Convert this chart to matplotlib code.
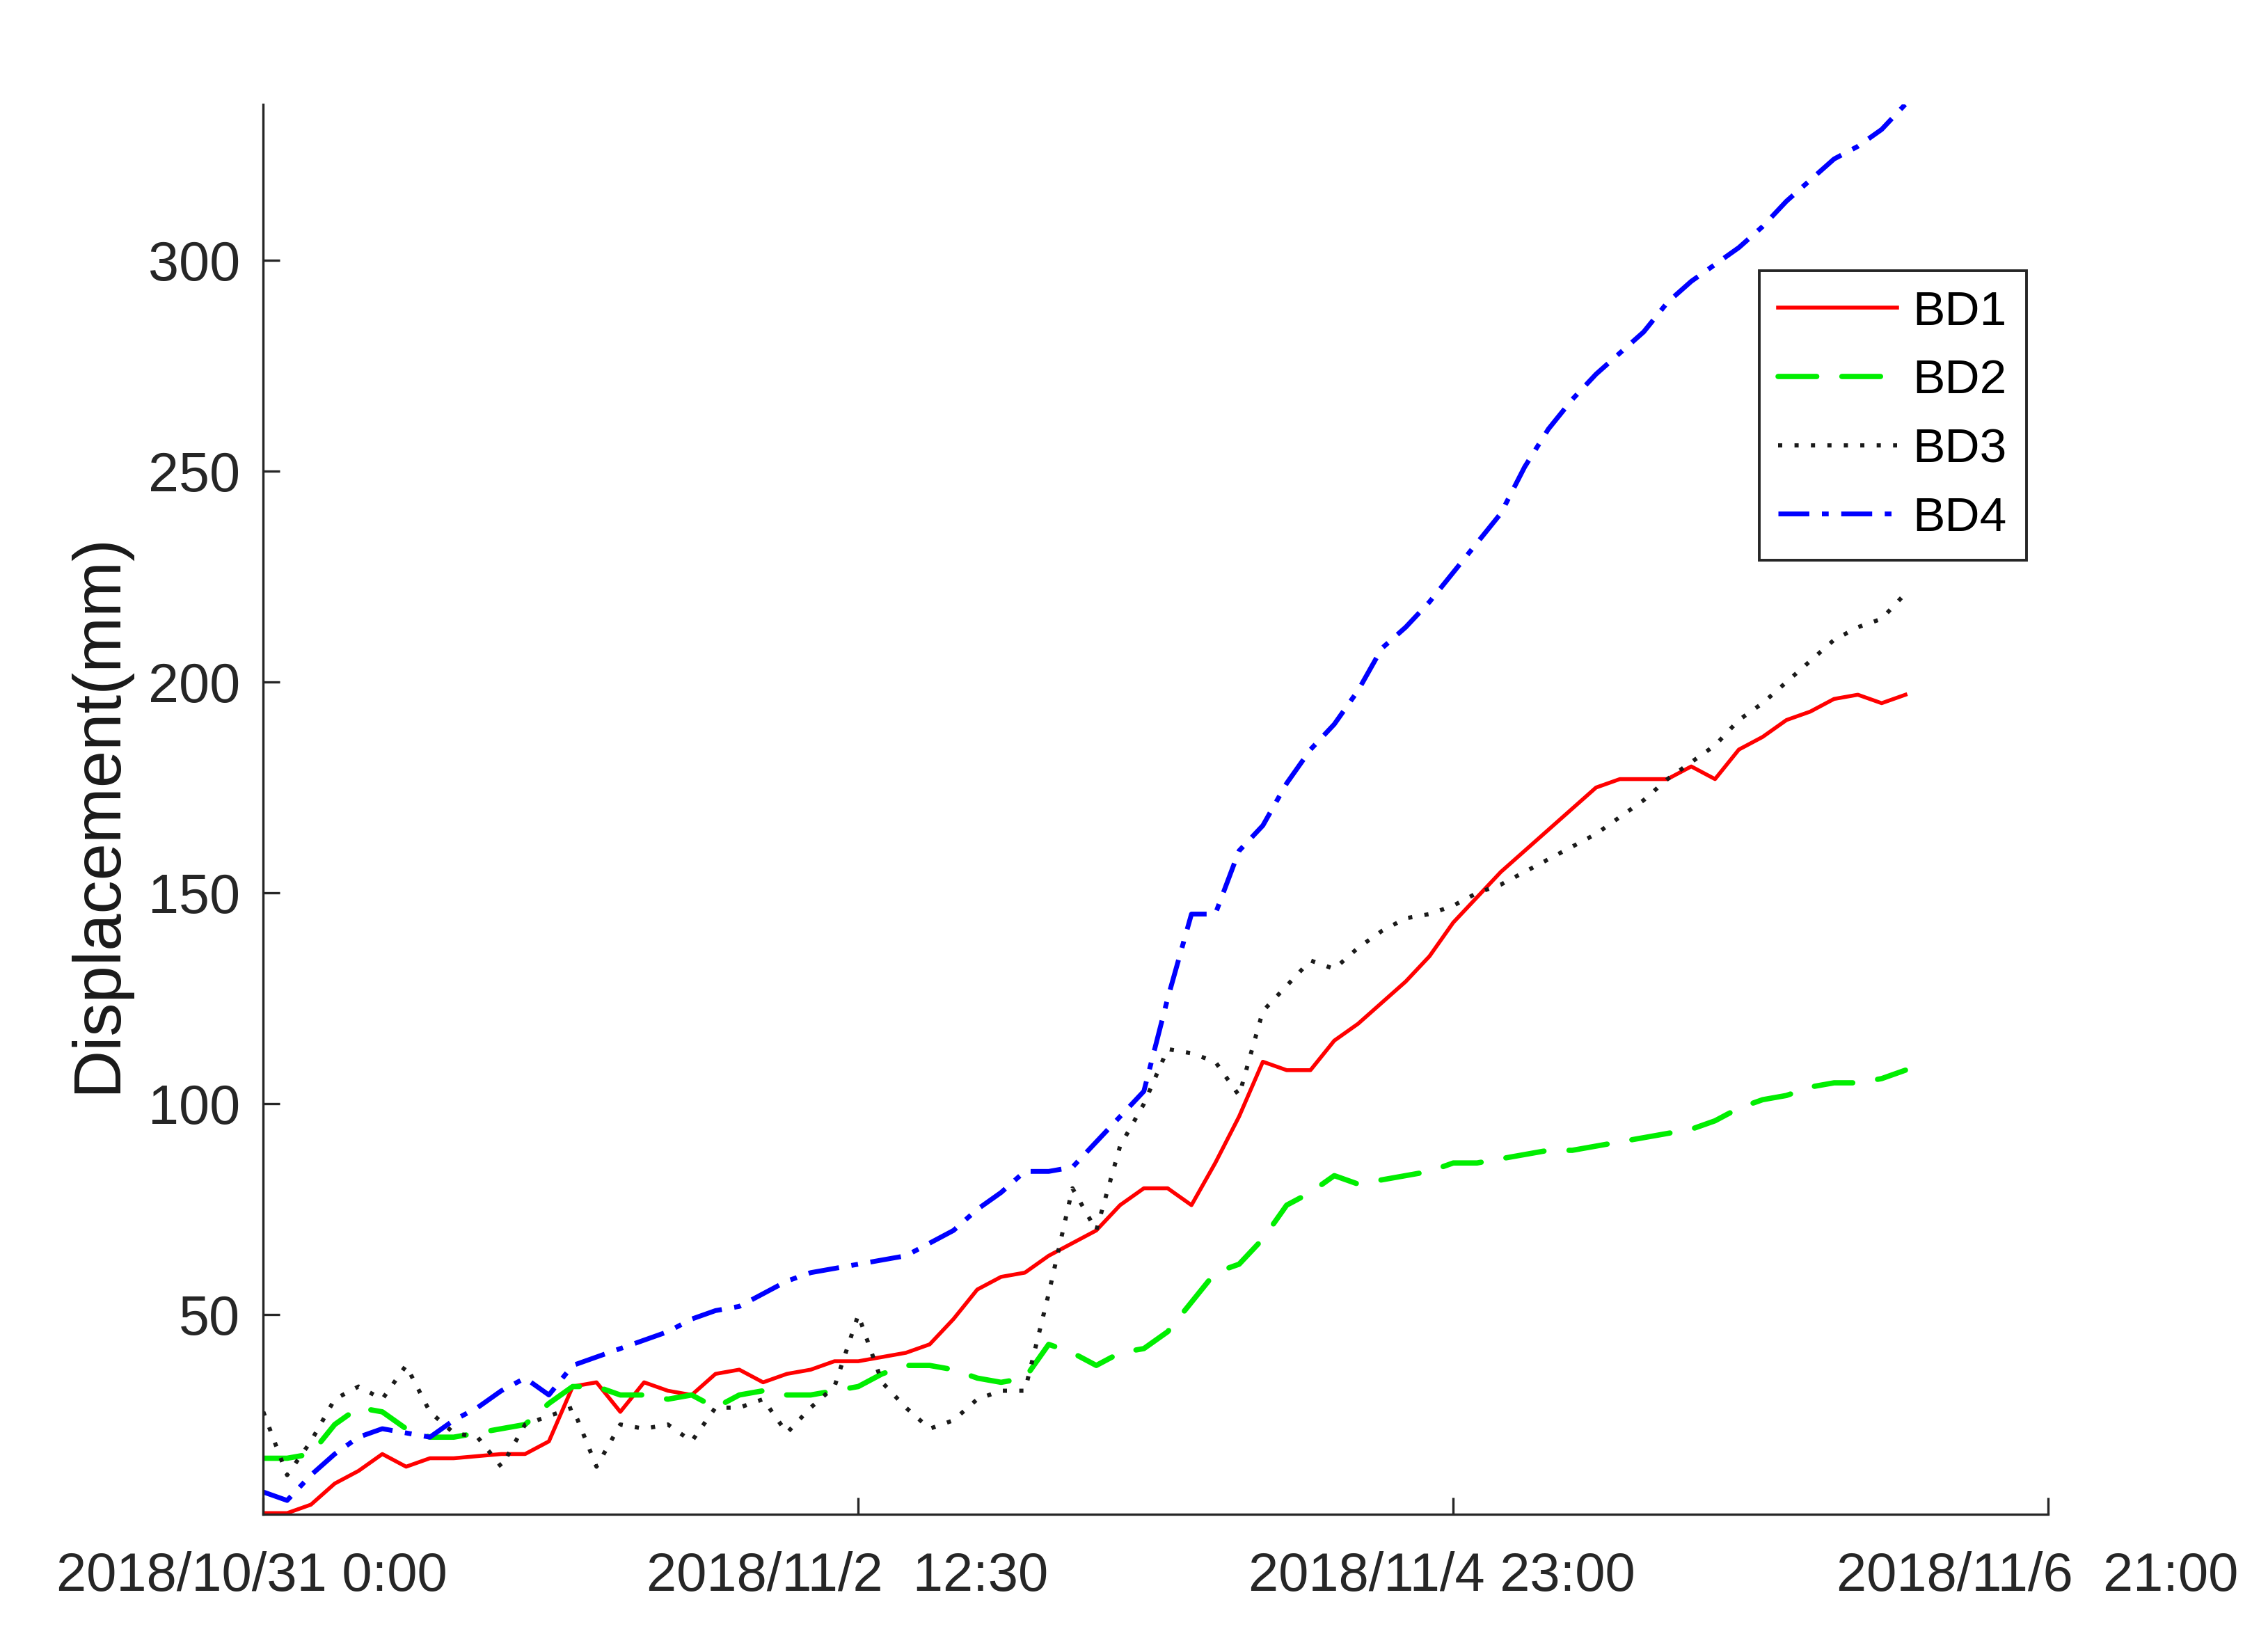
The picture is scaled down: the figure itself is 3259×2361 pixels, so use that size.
import numpy as np
import matplotlib
matplotlib.use("Agg")
import matplotlib.pyplot as plt
from matplotlib.transforms import ScaledTranslation

plt.rcParams["font.family"] = ["Liberation Sans", "DejaVu Sans"]
plt.rcParams["lines.scale_dashes"] = False

# sample index (4 samples per step) and displacement in mm
t = np.arange(0, 277, 4)

bd1 = [3, 3, 5, 10, 13, 17, 14, 16, 16, 16.5,
       17, 17, 20, 33, 34, 27, 34, 32, 31, 36,
       37, 34, 36, 37, 39, 39, 40, 41, 43, 49,
       56, 59, 60, 64, 67, 70, 76, 80, 80, 76,
       86, 97, 110, 108, 108, 115, 119, 124, 129, 135,
       143, 149, 155, 160, 165, 170, 175, 177, 177, 177,
       180, 177, 184, 187, 191, 193, 196, 197, 195, 197]

bd2 = [16, 16, 17, 24, 28, 27, 23, 21, 21, 22,
       23, 24, 29, 33, 33, 31, 31, 30, 31, 28,
       31, 32, 31, 31, 32, 33, 36, 38, 38, 37,
       35, 34, 35, 43, 41, 38, 41, 42, 46, 53,
       60, 62, 68, 76, 79, 83, 81, 82, 83, 84,
       86, 86, 87, 88, 89, 89, 90, 91, 92, 93,
       94, 96, 99, 101, 102, 104, 105, 105, 106, 108]

bd3 = [27, 12, 20, 30, 33, 30, 38, 27, 22, 21,
       14, 24, 26, 28, 14, 24, 23, 24, 20, 28,
       28, 30, 22, 28, 33, 50, 34, 28, 23, 25,
       30, 32, 32, 55, 80, 70, 90, 100, 113, 112,
       110, 102, 122, 128, 134, 132, 137, 141, 144, 145,
       147, 150, 152, 155, 158, 161, 164, 168, 172, 177,
       181, 185, 191, 195, 200, 205, 210, 213, 215, 221]

bd4 = [8, 6, 12, 17, 21, 23, 22, 21, 25, 28,
       32, 35, 31, 38, 40, 42, 44, 46, 49, 51,
       52, 55, 58, 60, 61, 62, 63, 64, 67, 70,
       75, 79, 84, 84, 85, 91, 97, 103, 125, 145,
       145, 160, 166, 176, 184, 190, 198, 208, 213, 219,
       226, 233, 240, 251, 260, 267, 273, 278, 283, 290,
       295, 299, 303, 308, 314, 319, 324, 327, 331, 337]

xtick_pos = [0, 100, 200, 300]
xtick_labels = ["2018/10/31 0:00", "2018/11/2  12:30",
                "2018/11/4 23:00", "2018/11/6  21:00"]
ytick_pos = [50, 100, 150, 200, 250, 300]

axcol = "#262626"

fig = plt.figure(figsize=(32.59, 23.61), dpi=100)
ax = fig.add_axes([0.1161, 0.0783, 0.787, 0.8583])

ax.plot(t, bd1, color="#ff0000", lw=4.0, label="BD1")
ax.plot(t, bd2, color="#00ee00", lw=5.5, dashes=(40, 26), dash_capstyle="round", label="BD2")
ax.plot(t, bd3, color="#1a1a1a", lw=4.3, dashes=(4.3, 12.7), dash_capstyle="butt", label="BD3")
ax.plot(t, bd4, color="#0000ff", lw=5.0, dashes=(32, 13, 7, 13), label="BD4")

ax.set_xlim(0, 300)
ax.set_ylim(2.7, 337)
ax.set_xticks(xtick_pos)
ax.set_xticklabels(xtick_labels)
ax.set_yticks(ytick_pos)

for s in ["top", "right"]:
    ax.spines[s].set_visible(False)
for s in ["left", "bottom"]:
    ax.spines[s].set_linewidth(2.4)
    ax.spines[s].set_color(axcol)

ax.tick_params(axis="both", direction="in", length=17, width=2.4, color=axcol,
               labelsize=57, labelcolor=axcol)
ax.tick_params(axis="x", labelsize=56, pad=38)
ax.tick_params(axis="y", pad=24)

# x labels sit a little left of their ticks in the original
shift = ScaledTranslation(-0.16, 0, fig.dpi_scale_trans)
for lab in ax.get_xticklabels():
    lab.set_transform(lab.get_transform() + shift)

fig.text(68 / 1568, 1 - 562 / 1136, "Displacement(mm)", rotation=90,
         ha="center", va="center", fontsize=69, color="#1a1a1a")

leg = ax.legend(loc="upper left", bbox_to_anchor=(0.838, 0.882), fontsize=50,
                handlelength=2.45, handletextpad=0.33, labelspacing=0.5,
                borderpad=0.4, borderaxespad=0, fancybox=False, framealpha=1)
leg.get_frame().set_edgecolor(axcol)
leg.get_frame().set_linewidth(2.8)

fig.savefig("out.png", dpi=100)
